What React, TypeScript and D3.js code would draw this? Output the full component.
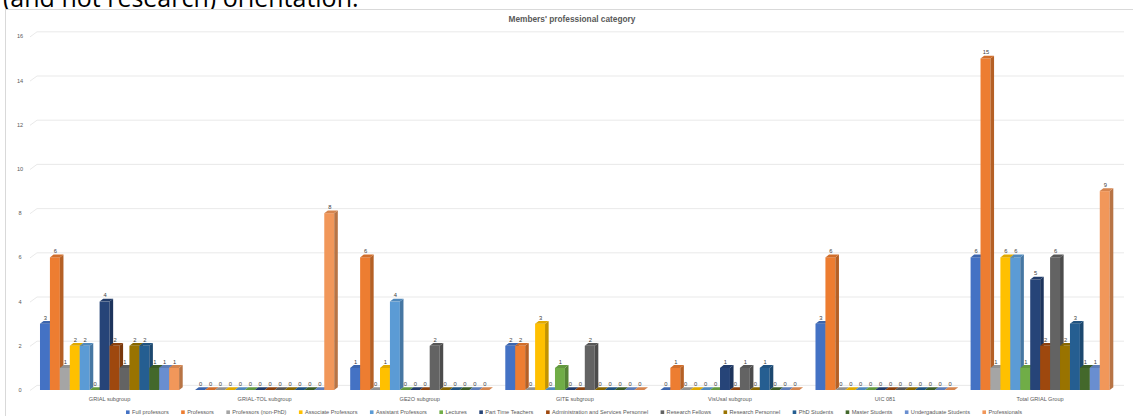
import React from "react";
import * as d3 from "d3";

const categories = [
  "GRIAL subgroup",
  "GRIAL-TOL subgroup",
  "GE2O subgroup",
  "GITE subgroup",
  "VisUsal subgroup",
  "UIC 081",
  "Total GRIAL Group",
];

const seriesNames = [
  "Full professors",
  "Professors",
  "Professors (non-PhD)",
  "Associate Professors",
  "Assistant Professors",
  "Lectures",
  "Part Time Teachers",
  "Administration and Services Personnel",
  "Research Fellows",
  "Research Personnel",
  "PhD Students",
  "Master Students",
  "Undergaduate Students",
  "Professionals",
];

const seriesColors = [
  "#4472C4", "#ED7D31", "#A5A5A5", "#FFC000", "#5B9BD5", "#70AD47", "#264478",
  "#9E480E", "#636363", "#997300", "#255E91", "#43682B", "#698ED0", "#F1975A",
];

// values per series, in category order
const fullProfessors = [3, 0, 1, 2, 0, 3, 6];
const professors = [6, 0, 6, 2, 1, 6, 15];
const professorsNonPhD = [1, 0, 0, 0, 0, 0, 1];
const associateProfessors = [2, 0, 1, 3, 0, 0, 6];
const assistantProfessors = [2, 0, 4, 0, 0, 0, 6];
const lectures = [0, 0, 0, 1, 0, 0, 1];
const partTimeTeachers = [4, 0, 0, 0, 1, 0, 5];
const administrationPersonnel = [2, 0, 0, 0, 0, 0, 2];
const researchFellows = [1, 0, 2, 2, 1, 0, 6];
const researchPersonnel = [2, 0, 0, 0, 0, 0, 2];
const phdStudents = [2, 0, 0, 0, 1, 0, 3];
const masterStudents = [1, 0, 0, 0, 0, 0, 1];
const undergraduateStudents = [1, 0, 0, 0, 0, 0, 1];
const professionals = [1, 8, 0, 0, 0, 0, 9];

const seriesValues = [
  fullProfessors, professors, professorsNonPhD, associateProfessors,
  assistantProfessors, lectures, partTimeTeachers, administrationPersonnel,
  researchFellows, researchPersonnel, phdStudents, masterStudents,
  undergraduateStudents, professionals,
];

const yTicks = [0, 2, 4, 6, 8, 10, 12, 14, 16];

const W = 1133;
const H = 416;
const FONT = "'Liberation Sans', Arial, sans-serif";
const TXT = "#595959";

function measure(text: string, font: string): number {
  if (typeof document === "undefined") return text.length * 3;
  const c = document.createElement("canvas");
  const ctx = c.getContext("2d");
  if (!ctx) return text.length * 3;
  ctx.font = font;
  return ctx.measureText(text).width;
}

export default function App() {
  const x0 = d3.scaleBand<string>().domain(categories).range([32, 1117.7]).paddingInner(0.103).paddingOuter(0.0515);
  const x1 = d3.scaleBand<string>().domain(seriesNames).range([0, x0.bandwidth()]).padding(0);
  const y = d3.scaleLinear().domain([0, 16]).range([390, 36.4]);
  const dx = 3.6;
  const dy = -2.8;
  const gdx = 7;
  const gdy = -4.6;
  const axisX = 30;

  const bw = x1.bandwidth();

  // legend layout: centred flow, fitted to the reference's span
  const legendFont = `5.6px ${FONT}`;
  const markerW = 3.6;
  const markerGap = 2.4;
  const legendSpan = 896;
  const widths = seriesNames.map((s) => measure(s, legendFont));
  const itemWidths = widths.map((w) => markerW + markerGap + w);
  const itemGap = Math.max(6, (legendSpan - d3.sum(itemWidths)) / (seriesNames.length - 1));
  const totalW = d3.sum(itemWidths) + itemGap * (seriesNames.length - 1);
  let cursor = 574 - totalW / 2;
  const legendItems = seriesNames.map((s, i) => {
    const item = { name: s, color: seriesColors[i], x: cursor };
    cursor += itemWidths[i] + itemGap;
    return item;
  });

  return (
    <svg width={W} height={H} style={{ position: "absolute", left: 0, top: 0, background: "#fff" }}>
      <rect x={0} y={0} width={W} height={H} fill="#fff" />
      {/* cut-off text above chart */}
      <text x={3} y={6.5} fontFamily="'Open Sans', sans-serif" fontSize={25} fill="#000">
        (and not research) orientation.
      </text>
      {/* chart frame */}
      <rect x={5.5} y={9.5} width={1140} height={420} fill="#fff" stroke="#d9d9d9" strokeWidth={1} />
      {/* title */}
      <text x={572} y={22} textAnchor="middle" fontFamily={FONT} fontSize={8.3} fontWeight="bold" fill={TXT}>
        Members' professional category
      </text>
      {/* gridlines */}
      {yTicks.map((t) => (
        <g key={t}>
          <line x1={axisX} y1={y(t) + 0.5} x2={axisX + gdx} y2={y(t) + gdy} stroke="#e3e3e3" strokeWidth={0.8} />
          <line x1={axisX + gdx} y1={y(t) + gdy} x2={1124} y2={y(t) + gdy} stroke="#e3e3e3" strokeWidth={0.8} />
          <text x={axisX - 10} y={y(t) + 2} textAnchor="middle" fontFamily={FONT} fontSize={5.6} fill={TXT}>
            {t}
          </text>
        </g>
      ))}
      {/* bars */}
      {categories.map((cat, ci) => (
        <g key={cat}>
          {seriesNames.map((s, si) => {
            const v = seriesValues[si][ci];
            const color = seriesColors[si];
            const xl = (x0(cat) as number) + (x1(s) as number);
            const xr = xl + bw;
            const yt = y(v);
            const yb = y(0);
            const side = d3.color(color)!.darker(0.75).formatHex();
            const top = d3.color(color)!.darker(0.35).formatHex();
            return (
              <g key={s}>
                {v > 0 && <rect x={xl} y={yt} width={bw} height={yb - yt} fill={color} />}
                {v > 0 && (
                  <polygon
                    points={`${xr},${yt} ${xr + dx},${yt + dy} ${xr + dx},${yb + dy} ${xr},${yb}`}
                    fill={side}
                  />
                )}
                <polygon
                  points={`${xl},${yt} ${xr},${yt} ${xr + dx},${yt + dy} ${xl + dx},${yt + dy}`}
                  fill={top}
                />
                <text
                  x={xl + bw / 2 + 0.5}
                  y={yt - 4.2}
                  textAnchor="middle"
                  fontFamily={FONT}
                  fontSize={5.8}
                  fill="#404040"
                >
                  {v}
                </text>
              </g>
            );
          })}
          <text
            x={(x0(cat) as number) + x0.bandwidth() / 2}
            y={401}
            textAnchor="middle"
            fontFamily={FONT}
            fontSize={5.6}
            fill={TXT}
          >
            {cat}
          </text>
        </g>
      ))}
      {/* legend */}
      {legendItems.map((it) => (
        <g key={it.name}>
          <rect x={it.x} y={410.4} width={markerW} height={markerW} fill={it.color} />
          <text x={it.x + markerW + markerGap} y={414} fontFamily={FONT} fontSize={5.6} fill={TXT}>
            {it.name}
          </text>
        </g>
      ))}
    </svg>
  );
}
